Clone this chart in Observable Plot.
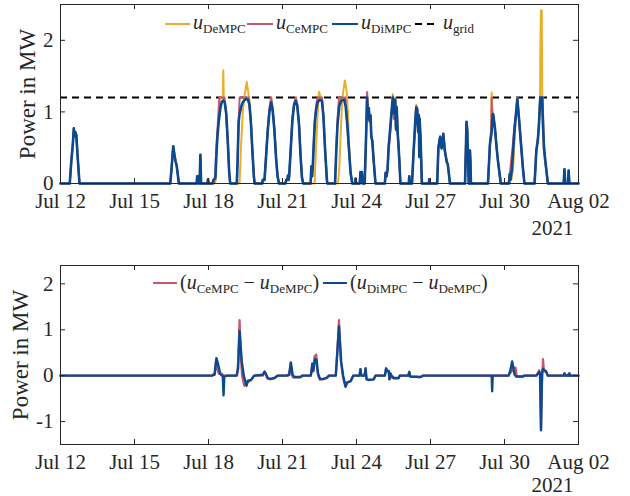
<!DOCTYPE html>
<html><head><meta charset="utf-8">
<script src="https://cdn.jsdelivr.net/npm/d3@7"></script>
<script src="https://cdn.jsdelivr.net/npm/@observablehq/plot@0.6"></script>
<style>
body{margin:0;background:#fff}
#c{width:630px}
#c svg{display:block}
</style>
</head><body><div id="c"></div>
<script>
// ---- data (times in days after 2021-07-12 00:00 UTC, values in MW) ----
const xTickDates = ["2021-07-12","2021-07-15","2021-07-18","2021-07-21","2021-07-24","2021-07-27","2021-07-30","2021-08-02"];
const yTicksTop = [0, 1, 2];
const yTicksBottom = [-1, 0, 1, 2];
const yearLabel = "2021";
const uGrid = 1.2;

const uDiMPC = [
[0,0],[0.375,0],[0.44,0.32],[0.5,0.55],[0.54,0.77],[0.57,0.66],[0.6,0.72],[0.64,0.68],[0.7,0.35],[0.77,0],
[4.45,0],[4.5,0.2],[4.57,0.52],[4.62,0.4],[4.67,0.3],[4.71,0.25],[4.8,0],
[5.52,0],[5.54,0.1],[5.58,0.1],[5.6,0],[5.64,0],[5.67,0.4],[5.7,0],[5.96,0],[5.98,0.06],[6.0,0],
[6.17,0],[6.2,0.05],[6.28,0.08],[6.31,0.35],[6.36,0.65],[6.42,0.88],[6.48,1.05],[6.54,1.14],[6.6,1.16],[6.66,1.13],[6.72,0.98],[6.78,0.6],[6.84,0.15],[6.88,0],
[7.15,0],[7.18,0.3],[7.22,0.85],[7.25,0.95],[7.28,1.0],[7.33,1.08],[7.4,1.14],[7.5,1.18],[7.6,1.17],[7.66,1.1],[7.72,0.85],[7.78,0.45],[7.84,0.1],[7.87,0],
[8.18,0],[8.2,0.05],[8.27,0.05],[8.33,0.35],[8.4,0.72],[8.47,1.0],[8.54,1.13],[8.6,1.02],[8.67,0.75],[8.74,0.35],[8.8,0.1],[8.86,0],
[9.12,0],[9.15,0.05],[9.2,0.05],[9.22,0.11],[9.25,0.05],[9.27,0.1],[9.33,0.45],[9.4,0.88],[9.47,1.1],[9.54,1.15],[9.6,1.08],[9.67,0.82],[9.73,0.4],[9.79,0.08],[9.84,0],
[10.14,0],[10.17,0.24],[10.2,0.1],[10.23,0.25],[10.26,0.5],[10.31,0.85],[10.37,1.05],[10.43,1.14],[10.5,1.17],[10.6,1.15],[10.66,0.93],[10.73,0.45],[10.8,0.05],[10.82,0],
[11.13,0],[11.18,0.45],[11.23,0.82],[11.3,1.08],[11.38,1.16],[11.5,1.17],[11.56,1.08],[11.62,0.85],[11.69,0.5],[11.76,0.15],[11.83,0],
[11.95,0],[11.96,0.07],[11.97,0],
[12.13,0],[12.16,0.16],[12.19,0.02],[12.22,0.16],[12.25,0],[12.33,0],[12.38,0.55],[12.43,1.2],[12.47,0.92],[12.5,1.05],[12.53,0.88],[12.57,0.95],[12.6,0.65],[12.64,0.6],[12.7,0.3],[12.77,0],
[13.15,0],[13.18,0.15],[13.22,0.1],[13.26,0.2],[13.3,0.5],[13.37,0.78],[13.42,1.0],[13.47,1.2],[13.52,0.98],[13.57,1.17],[13.6,0.76],[13.63,1.06],[13.67,0.7],[13.7,0.55],[13.74,0.3],[13.78,0],
[14.12,0],[14.14,0.1],[14.16,0],[14.25,0],[14.3,0.35],[14.38,0.85],[14.42,1.06],[14.46,1.04],[14.5,0.72],[14.53,0.95],[14.545,0.37],[14.56,0.9],[14.6,0.6],[14.65,0],
[14.93,0],[14.95,0.06],[14.97,0],
[15.27,0],[15.32,0.5],[15.39,0.65],[15.45,0.49],[15.52,0.69],[15.58,0.46],[15.66,0.3],[15.7,0.27],[15.79,0],
[16.4,0],[16.46,0.86],[16.49,0.75],[16.55,0],[16.58,0],[16.6,0.46],[16.62,0.3],[16.64,0],
[17.33,0],[17.41,0.55],[17.48,0.72],[17.52,0.95],[17.54,0.97],[17.61,0.78],[17.68,0.5],[17.74,0.3],[17.85,0],
[18.19,0],[18.21,0.13],[18.24,0.05],[18.3,0.2],[18.35,0.46],[18.41,0.76],[18.45,0.92],[18.52,1.18],[18.59,0.9],[18.68,0.5],[18.75,0.2],[18.81,0],
[19.22,0],[19.29,0.46],[19.35,0.6],[19.39,0.78],[19.45,1.2],[19.52,1.2],[19.56,0.83],[19.6,0.5],[19.65,0.33],[19.76,0],
[20.4,0],[20.43,0.2],[20.46,0],[20.57,0],[20.6,0.18],[20.63,0],[21,0]
];

const uCeMPC = [
[0,0],[0.375,0],[0.44,0.32],[0.5,0.55],[0.54,0.77],[0.57,0.66],[0.6,0.72],[0.64,0.68],[0.7,0.35],[0.77,0],
[4.45,0],[4.5,0.2],[4.57,0.52],[4.62,0.4],[4.67,0.3],[4.71,0.25],[4.8,0],
[5.52,0],[5.54,0.1],[5.58,0.1],[5.6,0],[5.64,0],[5.67,0.4],[5.7,0],[5.96,0],[5.98,0.06],[6.0,0],
[6.17,0],[6.22,0.02],[6.27,0.1],[6.32,0.5],[6.38,0.85],[6.44,1.2],[6.64,1.2],[6.7,1.02],[6.78,0.6],[6.84,0.15],[6.88,0],
[7.14,0],[7.2,0.6],[7.26,1.2],[7.62,1.2],[7.66,1.1],[7.72,0.85],[7.78,0.45],[7.84,0.1],[7.87,0],
[8.18,0],[8.2,0.05],[8.27,0.05],[8.33,0.38],[8.4,0.76],[8.47,1.05],[8.54,1.2],[8.6,1.05],[8.67,0.77],[8.74,0.36],[8.8,0.1],[8.86,0],
[9.12,0],[9.15,0.05],[9.2,0.05],[9.22,0.11],[9.25,0.05],[9.27,0.1],[9.33,0.47],[9.4,0.9],[9.47,1.12],[9.54,1.2],[9.6,1.1],[9.67,0.84],[9.73,0.41],[9.79,0.08],[9.84,0],
[10.14,0],[10.17,0.24],[10.2,0.1],[10.23,0.25],[10.26,0.52],[10.31,0.9],[10.37,1.1],[10.42,1.2],[10.6,1.2],[10.66,0.95],[10.73,0.46],[10.8,0.05],[10.82,0],
[11.13,0],[11.18,0.5],[11.23,0.9],[11.29,1.2],[11.55,1.2],[11.6,0.95],[11.65,0.72],[11.69,0.5],[11.76,0.15],[11.83,0],
[11.95,0],[11.96,0.07],[11.97,0],
[12.13,0],[12.16,0.16],[12.19,0.02],[12.22,0.16],[12.25,0],[12.33,0],[12.38,0.55],[12.43,1.27],[12.47,0.9],[12.5,1.05],[12.53,0.86],[12.57,0.95],[12.6,0.66],[12.64,0.6],[12.7,0.3],[12.77,0],
[13.15,0],[13.18,0.15],[13.22,0.1],[13.26,0.2],[13.3,0.45],[13.37,0.72],[13.42,0.95],[13.47,1.22],[13.52,0.9],[13.57,1.18],[13.6,0.74],[13.63,1.07],[13.67,0.7],[13.7,0.55],[13.74,0.3],[13.78,0],
[14.12,0],[14.14,0.1],[14.16,0],[14.25,0],[14.3,0.35],[14.38,0.85],[14.42,1.08],[14.46,1.05],[14.5,0.72],[14.53,0.96],[14.545,0.37],[14.56,0.9],[14.6,0.6],[14.65,0],
[14.93,0],[14.95,0.06],[14.97,0],
[15.27,0],[15.32,0.5],[15.39,0.66],[15.45,0.49],[15.52,0.7],[15.58,0.46],[15.66,0.3],[15.7,0.27],[15.79,0],
[16.4,0],[16.46,0.86],[16.49,0.75],[16.55,0],[16.58,0],[16.6,0.46],[16.62,0.3],[16.64,0],
[17.33,0],[17.41,0.55],[17.46,0.75],[17.48,1.2],[17.5,0.9],[17.54,0.97],[17.61,0.78],[17.68,0.5],[17.74,0.3],[17.85,0],
[18.15,0],[18.2,0.08],[18.25,0.25],[18.32,0.48],[18.4,0.8],[18.46,0.95],[18.52,1.2],[18.59,0.9],[18.68,0.5],[18.75,0.2],[18.81,0],
[19.22,0],[19.29,0.46],[19.35,0.62],[19.39,0.8],[19.45,1.2],[19.55,1.2],[19.58,0.75],[19.61,0.5],[19.65,0.33],[19.76,0],
[20.4,0],[20.43,0.2],[20.46,0],[20.57,0],[20.6,0.18],[20.63,0],[21,0]
];

const uDeMPC = [
[0,0],[0.375,0],[0.44,0.32],[0.5,0.55],[0.54,0.77],[0.57,0.66],[0.6,0.72],[0.64,0.68],[0.7,0.35],[0.77,0],
[4.45,0],[4.5,0.2],[4.57,0.52],[4.62,0.4],[4.67,0.3],[4.71,0.25],[4.8,0],
[5.52,0],[5.54,0.1],[5.58,0.1],[5.6,0],[5.64,0],[5.67,0.4],[5.7,0],[5.96,0],[5.98,0.06],[6.0,0],
[6.17,0],[6.25,0],[6.3,0.05],[6.35,0.55],[6.4,0.9],[6.46,1.2],[6.58,1.2],[6.6,1.58],[6.62,1.2],[6.64,1.2],[6.7,1.02],[6.78,0.6],[6.84,0.15],[6.88,0],
[7.15,0],[7.26,0],[7.33,0.6],[7.4,1.05],[7.47,1.25],[7.55,1.42],[7.6,1.3],[7.66,1.15],[7.72,0.85],[7.78,0.45],[7.84,0.1],[7.87,0],
[8.18,0],[8.2,0.05],[8.27,0.05],[8.33,0.38],[8.4,0.76],[8.47,1.05],[8.54,1.2],[8.6,1.05],[8.67,0.77],[8.74,0.36],[8.8,0.1],[8.86,0],
[9.12,0],[9.15,0.05],[9.2,0.05],[9.22,0.11],[9.25,0.05],[9.27,0.1],[9.33,0.47],[9.4,0.9],[9.47,1.12],[9.54,1.2],[9.6,1.1],[9.67,0.84],[9.73,0.41],[9.79,0.08],[9.84,0],
[10.14,0],[10.3,0],[10.36,0.5],[10.42,0.95],[10.48,1.28],[10.55,1.2],[10.6,1.17],[10.66,0.95],[10.73,0.46],[10.8,0.05],[10.82,0],
[11.13,0],[11.25,0],[11.3,0.2],[11.36,0.7],[11.42,1.17],[11.47,1.3],[11.53,1.44],[11.6,1.3],[11.65,1.0],[11.7,0.55],[11.77,0.12],[11.83,0],
[11.95,0],[11.96,0.07],[11.97,0],
[12.13,0],[12.16,0.16],[12.19,0.02],[12.22,0.16],[12.25,0],[12.33,0],[12.38,0.55],[12.43,1.28],[12.47,0.92],[12.5,1.06],[12.53,0.88],[12.57,0.96],[12.6,0.66],[12.64,0.6],[12.7,0.3],[12.77,0],
[13.15,0],[13.18,0.15],[13.22,0.1],[13.26,0.2],[13.3,0.5],[13.37,0.78],[13.42,1.0],[13.47,1.25],[13.52,1.0],[13.57,1.2],[13.6,0.78],[13.63,1.08],[13.67,0.7],[13.7,0.55],[13.74,0.3],[13.78,0],
[14.12,0],[14.14,0.1],[14.16,0],[14.25,0],[14.3,0.35],[14.38,0.86],[14.42,1.1],[14.46,1.06],[14.5,0.74],[14.53,0.97],[14.545,0.38],[14.56,0.92],[14.6,0.6],[14.65,0],
[14.93,0],[14.95,0.06],[14.97,0],
[15.27,0],[15.32,0.5],[15.39,0.66],[15.45,0.49],[15.52,0.7],[15.58,0.46],[15.66,0.3],[15.7,0.27],[15.79,0],
[16.4,0],[16.46,0.86],[16.49,0.75],[16.55,0],[16.58,0],[16.6,0.46],[16.62,0.3],[16.64,0],
[17.33,0],[17.41,0.55],[17.46,0.75],[17.48,1.27],[17.5,1.06],[17.54,0.97],[17.61,0.78],[17.68,0.5],[17.74,0.3],[17.85,0],
[18.19,0],[18.21,0.13],[18.24,0.05],[18.28,0.05],[18.35,0.2],[18.41,0.65],[18.46,0.9],[18.52,1.2],[18.59,0.9],[18.68,0.5],[18.75,0.2],[18.81,0],
[19.22,0],[19.29,0.46],[19.35,0.6],[19.39,0.78],[19.44,1.2],[19.46,2.1],[19.48,2.42],[19.495,2.2],[19.51,2.42],[19.53,1.2],[19.56,0.67],[19.6,0.45],[19.64,0.32],[19.76,0],
[20.4,0],[20.43,0.2],[20.46,0],[20.57,0],[20.6,0.18],[20.63,0],[21,0]
];

const dCeDe = [
[0,0],[6.15,0],[6.2,0.03],[6.25,0.05],[6.3,0.3],[6.35,0.15],[6.42,0.04],[6.55,0.04],[6.58,0],
[7.16,0],[7.2,0.3],[7.26,1.21],[7.32,0.35],[7.36,0],[7.4,-0.1],[7.45,-0.22],[7.5,-0.16],[7.6,-0.14],[7.72,-0.1],[7.78,-0.05],[7.84,0],
[8.2,0],[8.27,0.07],[8.32,0.03],[8.38,-0.06],[8.5,-0.08],[8.67,-0.06],[8.8,0],
[9.24,0],[9.27,0.02],[9.33,0.27],[9.38,0.02],[9.42,-0.04],[9.7,-0.04],[9.8,0],
[10.15,0],[10.21,0.26],[10.24,0.1],[10.3,0.42],[10.37,0.46],[10.41,0.1],[10.46,-0.02],[10.52,-0.09],[10.65,-0.08],[10.8,-0.04],[10.86,0],
[11.16,0],[11.22,0.5],[11.29,1.21],[11.36,0.35],[11.44,0],[11.5,-0.15],[11.55,-0.24],[11.62,-0.15],[11.76,-0.12],[11.87,0],
[12.13,0],[12.16,0.14],[12.2,0],[12.32,0],[12.36,0.15],[12.4,-0.07],[12.5,-0.1],[12.7,-0.08],[12.77,0],
[13.15,0],[13.2,0.15],[13.24,0.1],[13.3,0.1],[13.33,-0.08],[13.38,0.04],[13.42,-0.04],[13.5,-0.06],[13.7,-0.06],[13.75,0],
[14.1,0],[14.14,0.08],[14.18,-0.02],[14.6,-0.03],[14.7,0],
[17.48,0],[17.5,-0.05],[17.52,0],
[18.15,0],[18.3,0.1],[18.38,0.18],[18.45,0.17],[18.49,0],[18.52,-0.02],[18.74,-0.02],[18.78,0],
[19.3,0],[19.41,0.12],[19.45,0.02],[19.48,-1.15],[19.52,-0.2],[19.56,0.36],[19.6,0.1],[19.68,0.08],[19.76,0],
[20.4,0],[20.43,0.05],[20.46,0],[20.6,0],[20.63,0.05],[20.66,0],[21,0]
];

const dDiDe = [
[0,0],[6.15,0],[6.2,0.02],[6.25,0.02],[6.32,0.38],[6.37,0.29],[6.45,0.1],[6.49,0.03],[6.54,0],[6.58,0],[6.61,-0.43],[6.64,-0.02],[6.75,0],
[7.12,0],[7.16,0.05],[7.2,0.15],[7.26,0.97],[7.35,0.3],[7.43,0],[7.54,-0.22],[7.6,-0.11],[7.73,-0.09],[7.83,-0.02],[7.86,0],
[8.2,0.02],[8.27,0.09],[8.32,0.05],[8.4,-0.05],[8.5,-0.07],[8.67,-0.05],[8.8,0],
[9.14,0],[9.27,0.02],[9.34,0.29],[9.41,0.02],[9.48,-0.03],[9.74,-0.03],[9.8,0],
[10.15,0],[10.21,0.26],[10.25,0.1],[10.32,0.36],[10.38,0.35],[10.44,0.05],[10.52,-0.07],[10.68,-0.07],[10.82,-0.04],[10.88,0],
[11.16,0],[11.29,1.08],[11.38,0.3],[11.46,0],[11.56,-0.24],[11.62,-0.15],[11.76,-0.12],[11.87,0],
[12.12,0],[12.16,0.14],[12.19,0],[12.33,0],[12.37,0.16],[12.41,-0.08],[12.5,-0.09],[12.7,-0.08],[12.77,0],
[13.15,0],[13.2,0.16],[13.25,0.1],[13.31,0.1],[13.34,-0.08],[13.38,0.05],[13.42,0],[13.51,-0.05],[13.71,-0.05],[13.75,0],
[14.1,0],[14.14,0.08],[14.18,-0.02],[14.6,-0.03],[14.7,0],
[17.48,0],[17.5,-0.34],[17.52,0],
[18.17,0],[18.24,0.12],[18.31,0.31],[18.38,0.12],[18.41,0.02],[18.48,-0.02],[18.75,-0.02],[18.8,0],
[19.29,0],[19.4,0.08],[19.44,0.02],[19.48,-1.19],[19.52,0.05],[19.56,0.15],[19.62,0.12],[19.68,0.1],[19.76,0],
[20.4,0],[20.43,0.05],[20.46,0],[20.53,0],[20.56,0.02],[20.6,0],[20.63,0.05],[20.66,0],[21,0]
];

const colors = {De: "#EAAE2B", Ce: "#C9566C", Di: "#0B4A91"};
const topLegend = [
  {sub: "DeMPC", color: colors.De, dash: null, x1: 165, x2: 190, tx: 193},
  {sub: "CeMPC", color: colors.Ce, dash: null, x1: 247, x2: 273, tx: 276},
  {sub: "DiMPC", color: colors.Di, dash: null, x1: 332, x2: 358, tx: 361},
  {sub: "grid",  color: "#000",    dash: "7,5", x1: 415, x2: 437, tx: 443}
];
const bottomLegend = [
  {a: "CeMPC", b: "DeMPC", color: colors.Ce, x1: 153, x2: 177, tx: 180},
  {a: "DiMPC", b: "DeMPC", color: colors.Di, x1: 323, x2: 347, tx: 350}
];

// ---- helpers ----
const t0 = Date.UTC(2021, 6, 12);
const rows = arr => arr.map(([d, v]) => ({t: new Date(t0 + d * 864e5), v}));
const xTicks = xTickDates.map(s => new Date(s + "T00:00:00Z"));
const xDomain = [xTicks[0], xTicks[xTicks.length - 1]];
const FONT = "'Liberation Serif', 'Times New Roman', serif";
const axisColor = "#262626";
const TICK_FS = 21, LABEL_FS = 23;
const W = 630, ML = 60, MR = 52;
const innerW = W - ML - MR;

function frameMarks(yTicks, innerH) {
  return [
    Plot.frame({stroke: axisColor, strokeWidth: 1}),
    Plot.tickX(xTicks, {x: d => d, insetTop: innerH - 5, stroke: axisColor}),
    Plot.tickX(xTicks, {x: d => d, insetBottom: innerH - 5, stroke: axisColor}),
    Plot.tickY(yTicks, {y: d => d, insetRight: innerW - 5, stroke: axisColor}),
    Plot.tickY(yTicks, {y: d => d, insetLeft: innerW - 5, stroke: axisColor}),
    Plot.axisX(xTicks, {tickSize: 0, tickPadding: 10, tickFormat: d3.utcFormat("%b %d"), label: null, fontSize: TICK_FS, fill: axisColor}),
    Plot.axisY(yTicks, {tickSize: 0, tickPadding: 7, label: null, fontSize: TICK_FS, fill: axisColor, tickFormat: d => d < 0 ? "-" + Math.abs(d) : String(d)})
  ];
}

// ---- top panel ----
const H1 = 240, MT1 = 4, MB1 = 57;
const topPlot = Plot.plot({
  width: W, height: H1, marginLeft: ML, marginRight: MR, marginTop: MT1, marginBottom: MB1,
  style: {fontFamily: FONT, fontSize: "20px", color: axisColor, background: "white", overflow: "visible"},
  x: {type: "utc", domain: xDomain},
  y: {domain: [0, 2.5]},
  marks: [
    Plot.ruleY([uGrid], {stroke: "#000", strokeWidth: 2, strokeDasharray: "7,5"}),
    Plot.line(rows(uDeMPC), {x: "t", y: "v", stroke: colors.De, strokeWidth: 2}),
    Plot.line(rows(uCeMPC), {x: "t", y: "v", stroke: colors.Ce, strokeWidth: 2}),
    Plot.line(rows(uDiMPC), {x: "t", y: "v", stroke: colors.Di, strokeWidth: 2.6}),
    ...frameMarks(yTicksTop, H1 - MT1 - MB1),
    Plot.text(["Power in MW"], {frameAnchor: "left", text: d => d, rotate: -90, textAnchor: "middle", lineAnchor: "middle", dx: -33, fontSize: LABEL_FS, fill: axisColor}),
    Plot.text([yearLabel], {x: () => xDomain[1], text: d => d, frameAnchor: "bottom", lineAnchor: "middle", textAnchor: "middle", dy: 45, dx: -26, fontSize: TICK_FS, fill: axisColor})
  ]
});

// ---- bottom panel ----
const H2 = 256, MT2 = 25, MB2 = 52;
const bottomPlot = Plot.plot({
  width: W, height: H2, marginLeft: ML, marginRight: MR, marginTop: MT2, marginBottom: MB2,
  style: {fontFamily: FONT, fontSize: "20px", color: axisColor, background: "white", overflow: "visible"},
  x: {type: "utc", domain: xDomain},
  y: {domain: [-1.5, 2.4]},
  marks: [
    Plot.line(rows(dCeDe), {x: "t", y: "v", stroke: colors.Ce, strokeWidth: 2.2}),
    Plot.line(rows(dDiDe), {x: "t", y: "v", stroke: colors.Di, strokeWidth: 2.4}),
    ...frameMarks(yTicksBottom, H2 - MT2 - MB2),
    Plot.text(["Power in MW"], {frameAnchor: "left", text: d => d, rotate: -90, textAnchor: "middle", lineAnchor: "middle", dx: -40, fontSize: LABEL_FS, fill: axisColor}),
    Plot.text([yearLabel], {x: () => xDomain[1], text: d => d, frameAnchor: "bottom", lineAnchor: "middle", textAnchor: "middle", dy: 41, dx: -26, fontSize: TICK_FS, fill: axisColor})
  ]
});

const c = document.getElementById("c");
c.appendChild(topPlot);
c.appendChild(bottomPlot);

// ---- legends (inside the axes, as in the original) ----
function addSubText(g, x, y, parts) {
  const t = g.append("text").attr("x", x).attr("y", y).attr("font-family", FONT)
    .attr("text-anchor", "start").attr("font-size", 20).attr("fill", axisColor);
  parts.forEach(p => {
    const s = t.append("tspan").text(p.text);
    if (p.italic) s.attr("font-style", "italic");
    if (p.sub) s.attr("font-size", 13).attr("dy", 4);
    if (p.unsub) s.attr("dy", -4);
  });
}
{
  const g = d3.select(topPlot).append("g");
  const ly = 24;
  topLegend.forEach(it => {
    const l = g.append("line").attr("x1", it.x1).attr("x2", it.x2).attr("y1", ly).attr("y2", ly)
      .attr("stroke", it.color).attr("stroke-width", 2);
    if (it.dash) l.attr("stroke-dasharray", it.dash).attr("stroke-width", 2.2);
    addSubText(g, it.tx, ly + 5, [{text: "u", italic: true}, {text: it.sub, sub: true}]);
  });
}
{
  const g = d3.select(bottomPlot).append("g");
  const ly = 283 - H1;
  bottomLegend.forEach(it => {
    g.append("line").attr("x1", it.x1).attr("x2", it.x2).attr("y1", ly).attr("y2", ly)
      .attr("stroke", it.color).attr("stroke-width", 2);
    addSubText(g, it.tx, ly + 6, [
      {text: "("}, {text: "u", italic: true}, {text: it.a, sub: true},
      {text: " \u2212 ", unsub: true}, {text: "u", italic: true}, {text: it.b, sub: true},
      {text: ")", unsub: true}
    ]);
  });
}
</script>
</body></html>
